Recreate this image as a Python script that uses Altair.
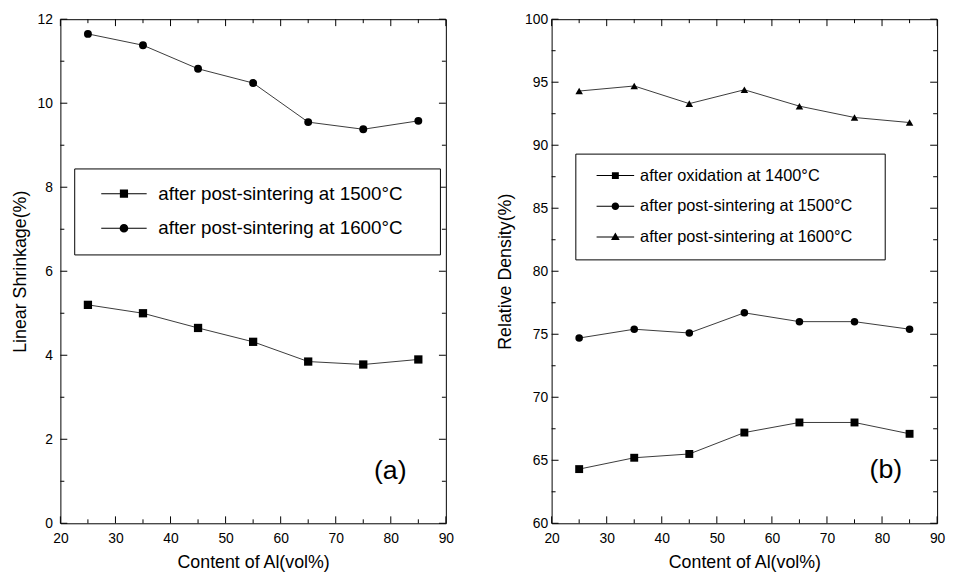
import altair as alt
import pandas as pd

FONT = "Liberation Sans"

# ---------------- data ----------------
al_content = [25, 35, 45, 55, 65, 75, 85]

shrink_1500 = [5.20, 5.00, 4.65, 4.32, 3.85, 3.78, 3.90]
shrink_1600 = [11.65, 11.38, 10.82, 10.48, 9.55, 9.38, 9.58]

dens_1400 = [64.3, 65.2, 65.5, 67.2, 68.0, 68.0, 67.1]
dens_1500 = [74.7, 75.4, 75.1, 76.7, 76.0, 76.0, 75.4]
dens_1600 = [94.3, 94.7, 93.3, 94.4, 93.1, 92.2, 91.8]

labels_a = ["after post-sintering at 1500°C", "after post-sintering at 1600°C"]
labels_b = ["after oxidation at 1400°C", "after post-sintering at 1500°C",
            "after post-sintering at 1600°C"]

x_major = [20, 30, 40, 50, 60, 70, 80, 90]
x_minor = [25, 35, 45, 55, 65, 75, 85]
ya_major = [0, 2, 4, 6, 8, 10, 12]
ya_minor = [1, 3, 5, 7, 9, 11]
yb_major = [60, 65, 70, 75, 80, 85, 90, 95, 100]
yb_minor = [62.5, 67.5, 72.5, 77.5, 82.5, 87.5, 92.5, 97.5]

tag_a = {"x": [79.9], "y": [1.25], "t": ["(a)"]}
tag_b = {"x": [80.7], "y": [64.2], "t": ["(b)"]}

# legend glyphs: line + marker (custom SVG paths, unit coords)
leg_paths_a = [
    "M0.2,-0.055H5.2V0.055H0.2Z M2.25,-0.45H3.15V0.45H2.25Z",
    "M0.2,-0.055H5.2V0.055H0.2Z M3.18,0A0.48,0.48 0 1,1 2.22,0A0.48,0.48 0 1,1 3.18,0Z",
]
leg_paths_b = [
    "M-0.1,-0.066H4.9V0.066H-0.1Z M1.94,-0.46H2.86V0.46H1.94Z",
    "M-0.1,-0.066H4.9V0.066H-0.1Z M2.9,0A0.5,0.5 0 1,1 1.9,0A0.5,0.5 0 1,1 2.9,0Z",
    "M-0.1,-0.066H4.9V0.066H-0.1Z M2.4,-0.58L2.98,0.42H1.82Z",
]


def panel(series, labels, shapes, sizes, leg_paths, leg_size, leg_opts,
          ydom, ymaj, ymin, ytitle, ylabpad, ytitlepad, W, H, tag):
    rows = []
    for k, (lab, vals) in enumerate(zip(labels, series)):
        for x, v in zip(al_content, vals):
            rows.append({"x": x, "y": v, "s": lab, "k": k})
    df = pd.DataFrame(rows)
    xs = alt.Scale(domain=[20, 90], nice=False, zero=False)
    ys = alt.Scale(domain=ydom, nice=False, zero=False)
    AX = alt.Axis(values=x_major, title="Content of Al(vol%)", labelFontSize=14,
                  labelPadding=8, titleFontSize=18, titlePadding=9, labelFlush=False)
    AY = alt.Axis(values=ymaj, title=ytitle, labelFontSize=14, labelPadding=ylabpad,
                  titleFontSize=18, titlePadding=ytitlepad, labelFlush=False)

    def XF(f):
        return alt.X(f, type="quantitative", scale=xs, axis=AX)

    def YF(f):
        return alt.Y(f, type="quantitative", scale=ys, axis=AY)

    base = alt.Chart(df)
    layers = [base.mark_line(color="#3a3a3a", strokeWidth=1).encode(
        x=XF("x"), y=YF("y"), detail="s:N")]
    for k, (sh, sz) in enumerate(zip(shapes, sizes)):
        layers.append(base.transform_filter(alt.datum.k == k).mark_point(
            shape=sh, filled=True, color="black", size=sz, opacity=1,
            strokeWidth=0).encode(x=XF("x"), y=YF("y")))

    # inward ticks
    for vals, L in ((x_major, 7), (x_minor, 4)):
        b = alt.Chart(pd.DataFrame({"v": vals})).mark_rule(color="black", strokeWidth=1)
        layers.append(b.encode(x=XF("v"), y=alt.value(H), y2=alt.value(H - L)))
        layers.append(b.encode(x=XF("v"), y=alt.value(0), y2=alt.value(L)))
    for vals, L in ((ymaj, 7), (ymin, 4)):
        b = alt.Chart(pd.DataFrame({"v": vals})).mark_rule(color="black", strokeWidth=1)
        layers.append(b.encode(y=YF("v"), x=alt.value(0), x2=alt.value(L)))
        layers.append(b.encode(y=YF("v"), x=alt.value(W), x2=alt.value(W - L)))

    # panel tag
    layers.append(alt.Chart(pd.DataFrame(tag)).mark_text(
        font=FONT, fontSize=27, color="black").encode(
        x=XF("x"), y=YF("y"), text="t:N"))

    # legend (drawn from shape scale domain only)
    layers.append(base.transform_filter("false").mark_point(
        filled=True, color="black", size=leg_size, opacity=1, strokeWidth=0).encode(
        x=XF("x"), y=YF("y"),
        shape=alt.Shape("s:N", scale=alt.Scale(domain=labels, range=leg_paths),
                        legend=alt.Legend(
                            orient="none", strokeColor="black",
                            fillColor="white", labelFont=FONT, labelColor="black",
                            symbolFillColor="black", symbolStrokeWidth=0,
                            symbolSize=leg_size, labelLimit=0,
                            titleOrient="right", titlePadding=0,
                            titleColor="rgba(0,0,0,0)", titleFont=FONT,
                            **leg_opts))))
    return alt.layer(*layers).properties(width=W, height=H)


left = panel([shrink_1500, shrink_1600], labels_a, ["square", "circle"], [70, 64],
             leg_paths_a, 338,
             dict(legendX=14, legendY=151, padding=16, rowPadding=15,
                  labelOffset=50, labelFontSize=19, title="MM", titleFontSize=13),
             [0, 12], ya_major, ya_minor, "Linear Shrinkage(%)", 8, 8, 390, 510, tag_a)

right = panel([dens_1400, dens_1500, dens_1600], labels_b,
              ["square", "circle", "triangle-up"], [64, 58, 58],
              leg_paths_b, 231,
              dict(legendX=24, legendY=136, padding=14, rowPadding=14,
                   labelOffset=35, labelFontSize=16.5, title="MM", titleFontSize=11),
              [60, 100], yb_major, yb_minor, "Relative Density(%)", 4, 10, 390, 510, tag_b)

chart = alt.hconcat(left, right, spacing=42).resolve_scale(
    x="independent", y="independent", shape="independent"
).resolve_legend(shape="independent").configure_view(
    stroke="black", strokeWidth=1
).configure_axis(
    grid=False, ticks=False, domain=False, labelFont=FONT, titleFont=FONT,
    labelColor="black", titleColor="black", titleFontWeight="normal"
).properties(
    padding={"left": 2, "top": 0, "right": 0, "bottom": 0}, background="white"
)

chart.save("out.html", embed_options={"renderer": "svg", "actions": False})
